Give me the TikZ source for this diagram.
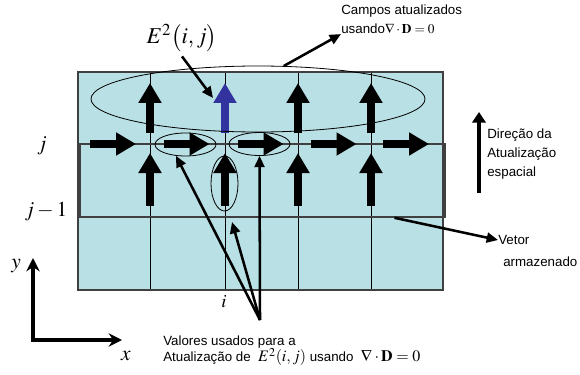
\documentclass[tikz,border=0pt]{standalone}
\usepackage{mathptmx}
\usepackage[no-math]{fontspec}
\setmainfont{Liberation Sans}
\usetikzlibrary{arrows.meta,shapes.geometric,calc}
\definecolor{celula}{RGB}{185,224,228}
\definecolor{azulE}{RGB}{51,51,160}
\definecolor{borda}{RGB}{64,64,64}
\newcommand{\pxu}{0.75pt}
\tikzset{
  bloco/.style={line width=6pt, -{Triangle[width=16.5pt,length=15pt]}},
  indica/.style={line width=1.9pt, -{Triangle[width=7.5pt,length=8.5pt]}},
  eixo/.style={line width=2.4pt, {Stealth[width=10pt,length=10pt]}-{Stealth[width=10pt,length=10pt]}},
  elipse/.style={ellipse, draw, line width=0.6pt, inner sep=0pt},
  rotulo/.style={font=\fontsize{10}{14}\selectfont, align=left, inner sep=0pt},
  mat/.style={font=\fontsize{16}{18}\selectfont, inner sep=1pt},
}
\begin{document}
\begin{tikzpicture}[x=0.75pt, y=-0.75pt]
    \useasboundingbox (0,0) rectangle (580,374);

    % Grade de celulas
    \fill[celula] (78,72) rectangle (443,290);
    \foreach \x in {150,225,298,371} {
        \draw[thin] (\x,72) -- (\x,290);
    }
    \draw[thin] (78,144) -- (443,144);
    \draw[thin] (78,217) -- (443,217);
    \draw[borda, line width=1.1pt] (78,72) rectangle (443,290);

    % Vetor armazenado
    \node[draw=borda, line width=1.2pt, inner sep=0pt, minimum width=365*\pxu, minimum height=73*\pxu] (vec) at (262.5,180.5) {};

    % Componentes do campo
    \foreach \c in {114,187.5,261.5,334.5,407} {
        \draw[bloco] (\c-24,144) -- (\c+22,144);
    }
    \foreach \x in {150,225,298,371} {
        \draw[bloco] (\x,206) -- (\x,153);
    }
    \foreach \x in {150,298,371} {
        \draw[bloco] (\x,133) -- (\x,83);
    }
    \draw[bloco, azulE] (225,133) -- (225,83);

    % Elipses
    \node[elipse, minimum width=334*\pxu, minimum height=66*\pxu] (atual) at (258,99) {};
    \node[elipse, minimum width=61*\pxu, minimum height=23*\pxu] (hx1) at (185.5,144.5) {};
    \node[elipse, minimum width=61*\pxu, minimum height=23*\pxu] (hx2) at (259.5,144) {};
    \node[elipse, minimum width=27*\pxu, minimum height=55*\pxu] (vy) at (224.5,183.5) {};

    % Rotulos
    \node[font=\fontsize{17}{20}\selectfont] (E2) at (182,38) {$E^2\bigl(i,j\bigr)$};
    \node[rotulo, anchor=north west] (campos) at (341,5) {Campos atualizados\\usando$\nabla\cdot\mathbf{D}=0$};
    \node[rotulo, anchor=north west] (direcao) at (487,129) {Direção da\\Atualização\\espacial};
    \node[rotulo, anchor=west] (vetor) at (498,240) {Vetor};
    \node[rotulo, anchor=west] (armaz) at (503,262) {armazenado};
    \node[rotulo, anchor=north west] (valores) at (163,336) {Valores usados para a\\[-2pt]Atualização de \ {\large$E^2(i,j)$} usando \ {\large$\nabla\cdot\mathbf{D}=0$}};
    \node[mat] (lj) at (42,146) {$j$};
    \node[mat] (lj1) at (46,212) {$j-1$};
    \node[mat, font=\fontsize{14}{16}\selectfont] (li) at (224,302) {$i$};

    % Eixos
    \coordinate (orig) at (33,340);
    \coordinate (ey) at (33,258);
    \coordinate (ex) at (122,340);
    \draw[eixo] (ey) -- (orig) -- (ex);
    \node[mat] (ly) at (16,266) {$y$};
    \node[mat] (lx) at (126,356) {$x$};

    % Direcao da atualizacao
    \draw[line width=3.7pt, -{Triangle[width=10pt,length=8pt]}] (479,193) -- (479,112);

    % Setas indicadoras
    \coordinate (pE) at (213,98);
    \coordinate (pvy) at (232,222);
    \coordinate (conv) at (260,320);
    \draw[indica] (E2.south) -- (pE);
    \draw[indica] (atual.52) -- (campos.south west);
    \draw[indica] ($(vec.south west)!0.86!(vec.south east)$) -- (vetor.west);
    \draw[indica] (conv) -- (hx1.230);
    \draw[indica] (conv) -- (pvy);
    \draw[indica] (conv) -- (hx2.south);
\end{tikzpicture}
\end{document}
